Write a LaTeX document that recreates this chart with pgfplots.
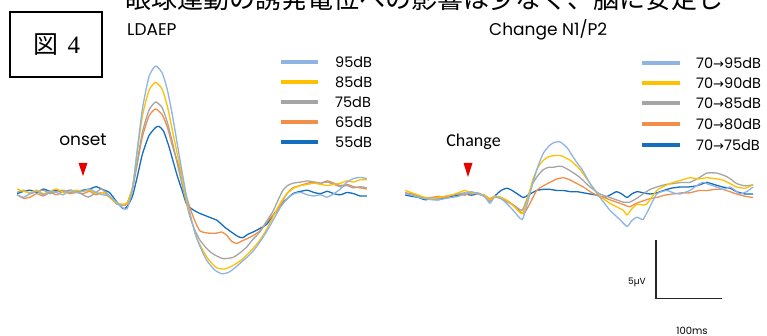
\documentclass[border=0pt]{standalone}
\usepackage{pgfplots}
\pgfplotsset{compat=1.18}
\usepackage{fontspec}
\setmainfont{Poppins}
\newfontfamily\cjk{Noto Sans CJK JP}
\newfontfamily\calib{Carlito}
\newfontfamily\dejavu{DejaVu Sans}
\newfontfamily\serif{Liberation Serif}
\definecolor{cA}{RGB}{141,180,226}
\definecolor{cB}{RGB}{255,192,0}
\definecolor{cC}{RGB}{165,165,165}
\definecolor{cD}{RGB}{241,143,72}
\definecolor{cE}{RGB}{20,110,190}
\definecolor{trired}{RGB}{230,0,0}
\begin{document}
\begin{tikzpicture}
\useasboundingbox (0pt,0pt) rectangle (767pt,336pt);
% cut-off running text at the top
\node[anchor=base west, inner sep=0pt, font=\cjk\fontsize{26}{26}\selectfont] at (125pt,327pt) {眼球運動の誘発電位への影響は少なく、脳に安定し};
% figure number box
\draw[line width=2pt] (10pt,259pt) rectangle (102pt,324pt);
\node[inner sep=0pt] at (57pt,291pt) {\fontsize{25}{25}\selectfont{\cjk 図}\hspace{0.35em}{\serif 4}};
% titles
\node[anchor=base west, inner sep=0pt, font=\fontsize{17}{17}\selectfont] at (127pt,300pt) {LDAEP};
\node[anchor=base west, inner sep=0pt, font=\fontsize{17}{17}\selectfont] at (489pt,300pt) {Change N1/P2};
% onset / change labels and markers
\node[anchor=base, inner sep=0pt, font=\fontsize{17}{17}\selectfont] at (83pt,190pt) {onset};
\node[anchor=base, inner sep=0pt, font=\calib\fontsize{18}{18}\selectfont] at (473.5pt,189pt) {Change};
\fill[trired] (78.5pt,173pt) -- (87.5pt,173pt) -- (83pt,160pt) -- cycle;
\fill[trired] (463.5pt,173pt) -- (472.5pt,173pt) -- (468pt,159pt) -- cycle;
% legends
\foreach \c/\yy/\t in {cA/274/95dB, cB/254/85dB, cC/234/75dB, cD/214/65dB, cE/194/55dB}{
  \draw[\c, line width=3.5pt] (281pt,\yy pt) -- (318pt,\yy pt);
  \node[anchor=west, inner sep=0pt, font=\fontsize{14.5}{14.5}\selectfont] at (335pt,\yy pt) {\t};
}
\foreach \c/\yy/\t in {cA/273/95dB, cB/253/90dB, cC/233/85dB, cD/212/80dB, cE/191/75dB}{
  \draw[\c, line width=3.5pt] (642pt,\yy pt) -- (680pt,\yy pt);
  \node[anchor=west, inner sep=0pt, font=\fontsize{14.5}{14.5}\selectfont] at (696pt,\yy pt) {70{\dejavu\fontsize{13}{13}\selectfont →}\t};
}
% scale labels
\node[inner sep=0pt, font=\fontsize{9}{9}\selectfont] at (637pt,54pt) {5µV};
\node[anchor=base, inner sep=0pt, font=\fontsize{10}{10}\selectfont] at (692pt,1.5pt) {100ms};

% ---------------- LDAEP ----------------
\begin{axis}[at={(17pt,50.7pt)}, anchor=south west, scale only axis,
  width=349.8pt, height=232pt, enlargelimits=false,
  xmin=-100, xmax=430, ymin=-8, ymax=12, axis lines=none, clip=false,
  every axis plot/.append style={line width=1.3pt, smooth, tension=0.35, no markers}]
\addplot[cE] coordinates {(-100,-0.1)(-90,0.1)(-80,0.2)(-70,0.0)(-60,0.3)(-50,0.1)(-40,0.2)(-30,0.0)(-20,0.2)(-10,0.1)(0,0.2)(10,0.3)(20,0.5)(28,0.3)(40,0.0)(51,-0.8)(61,-1.4)(67,-1.2)(75,-0.3)(82,1.3)(90,3.3)(100,4.9)(110,5.6)(115,5.7)(122,5.3)(130,4.0)(136,2.8)(143,1.4)(150,0.2)(157,-1.0)(167,-1.5)(177,-1.8)(190,-2.1)(203,-2.4)(215,-3.0)(227,-3.5)(235,-3.8)(242,-3.9)(250,-3.6)(258,-3.4)(268,-3.1)(279,-2.7)(290,-1.8)(303,-0.9)(318,-0.1)(330,0.1)(340,0.2)(350,0.0)(360,-0.1)(370,0.1)(380,-0.1)(390,-0.2)(400,0.0)(410,-0.1)(420,-0.3)(430,-0.3)};
\addplot[cD] coordinates {(-100,-0.2)(-90,-0.5)(-80,-0.4)(-70,-0.1)(-60,-0.3)(-50,0.0)(-40,-0.2)(-30,0.1)(-20,-0.1)(-10,0.0)(0,-0.1)(10,0.1)(20,-0.2)(30,0.0)(40,-0.4)(50,-0.9)(60,-1.1)(67,-1.0)(75,0.3)(82,2.4)(90,4.8)(100,6.6)(110,7.2)(120,6.7)(128,5.6)(136,3.9)(147,1.9)(157,-0.4)(167,-2.1)(177,-3.3)(190,-3.5)(203,-3.5)(210,-3.4)(218,-3.7)(225,-4.2)(233,-4.4)(240,-4.2)(248,-4.0)(258,-3.7)(268,-3.3)(280,-2.4)(294,-1.6)(302,-0.8)(309,-0.1)(318,0.4)(329,0.6)(340,0.8)(350,0.9)(360,0.8)(370,1.0)(380,0.8)(390,0.6)(400,0.7)(410,0.5)(420,0.4)(430,0.3)};
\addplot[cC] coordinates {(-100,0.0)(-90,0.2)(-80,-0.1)(-70,0.1)(-60,0.2)(-50,-0.1)(-40,0.1)(-30,0.2)(-20,0.0)(-10,0.1)(0,-0.2)(8,-0.4)(20,0.0)(28,0.3)(40,-0.3)(51,-1.0)(60,-1.1)(67,-0.9)(75,0.4)(82,2.6)(90,5.2)(100,7.1)(110,7.8)(120,7.3)(128,6.0)(136,4.2)(150,0.7)(162,-2.1)(170,-3.3)(177,-4.1)(187,-4.8)(197,-5.3)(212,-5.7)(227,-5.6)(238,-5.2)(248,-4.7)(258,-4.0)(268,-3.4)(278,-2.5)(288,-1.6)(296,-0.6)(303,0.2)(310,0.6)(318,0.8)(330,0.9)(340,1.0)(350,0.9)(360,0.8)(370,0.9)(380,0.7)(390,0.5)(400,0.6)(410,0.4)(420,0.5)(430,0.4)};
\addplot[cB] coordinates {(-100,0.3)(-90,0.1)(-80,0.0)(-70,0.2)(-60,-0.1)(-50,0.1)(-40,0.3)(-30,0.0)(-20,0.1)(-10,0.2)(0,0.1)(10,0.2)(20,-0.1)(30,0.0)(40,-0.4)(50,-0.9)(60,-1.0)(67,-0.9)(75,0.5)(82,3.4)(90,6.6)(100,8.8)(110,9.5)(120,8.9)(128,7.4)(136,5.2)(147,2.2)(157,-0.7)(165,-2.5)(172,-3.9)(180,-4.8)(188,-5.6)(195,-6.1)(203,-6.5)(215,-6.6)(227,-6.3)(238,-5.9)(248,-5.4)(258,-4.8)(268,-4.1)(278,-3.2)(288,-2.1)(298,-1.0)(309,-0.1)(320,0.4)(330,0.6)(340,0.7)(350,0.8)(360,0.7)(370,0.6)(380,0.7)(390,0.8)(400,1.0)(410,0.9)(420,1.1)(430,1.1)};
\addplot[cA] coordinates {(-100,-0.2)(-90,-0.4)(-80,-0.1)(-70,0.1)(-60,-0.2)(-50,0.1)(-40,0.0)(-30,-0.2)(-20,0.2)(-10,0.0)(0,0.1)(10,0.3)(20,0.0)(30,-0.2)(40,-0.3)(50,-0.8)(60,-1.3)(67,-1.4)(75,0.3)(82,3.6)(90,7.2)(100,10.0)(110,10.9)(120,10.3)(128,8.8)(136,6.5)(147,2.8)(157,-0.4)(165,-2.5)(172,-3.9)(180,-5.0)(188,-5.9)(200,-6.7)(210,-7.0)(220,-6.9)(230,-6.5)(240,-6.0)(250,-5.5)(260,-4.9)(270,-4.1)(280,-3.2)(290,-2.2)(300,-1.2)(310,-0.5)(320,-0.1)(330,0.0)(340,-0.2)(350,-0.3)(360,-0.2)(370,-0.4)(380,-0.1)(390,0.3)(400,0.9)(410,1.2)(420,1.3)(430,1.2)};
\end{axis}

% ---------------- Change N1/P2 ----------------
\begin{axis}[at={(405.3pt,31.8pt)}, anchor=south west, scale only axis,
  width=347.82pt, height=179.8pt, enlargelimits=false,
  xmin=-95, xmax=432, ymin=-9.5, ymax=6, axis lines=none, clip=false,
  every axis plot/.append style={line width=1.3pt, smooth, tension=0.35, no markers}]
\addplot[cE] coordinates {(-95,-0.1)(-85,-0.2)(-75,-0.3)(-65,-0.5)(-55,-0.4)(-45,-0.5)(-35,-0.3)(-25,-0.2)(-15,-0.1)(-5,0.0)(5,-0.1)(15,0.0)(25,-0.2)(33,-0.6)(42,-0.1)(50,0.3)(59,0.5)(67,0.3)(75,0.0)(84,-0.3)(94,0.0)(104,0.3)(114,0.4)(124,0.4)(135,0.3)(145,0.3)(155,0.2)(165,0.2)(175,0.1)(185,0.0)(195,-0.1)(206,-0.3)(215,-0.1)(225,0.2)(233,0.0)(241,-0.3)(248,0.0)(256,0.2)(266,0.1)(276,0.0)(286,0.1)(296,0.3)(308,0.5)(321,0.6)(333,0.6)(346,0.7)(356,0.9)(362,1.0)(374,0.8)(386,0.6)(397,0.5)(407,0.2)(420,0.0)(432,0.0)};
\addplot[cD] coordinates {(-95,0.1)(-85,0.0)(-75,-0.2)(-65,-0.3)(-55,-0.3)(-45,-0.2)(-35,-0.3)(-25,-0.1)(-15,0.0)(-5,-0.1)(5,0.1)(15,0.0)(25,-0.1)(33,-0.4)(40,-0.2)(50,-0.3)(60,-0.6)(70,-1.0)(84,-1.7)(94,-0.8)(104,0.3)(114,0.7)(124,1.0)(135,1.3)(145,1.4)(155,1.2)(165,0.9)(175,0.6)(185,0.2)(195,-0.1)(206,-0.3)(215,-0.5)(225,-0.7)(235,-0.9)(245,-1.1)(255,-0.8)(265,-0.6)(276,-0.4)(286,-0.3)(298,-0.1)(311,0.0)(324,0.1)(336,0.1)(350,0.3)(362,0.3)(374,0.4)(386,0.4)(397,0.2)(407,0.0)(420,-0.2)(432,-0.3)};
\addplot[cC] coordinates {(-95,0.1)(-85,-0.1)(-75,-0.2)(-65,-0.4)(-55,-0.3)(-45,-0.4)(-35,-0.2)(-25,-0.1)(-15,0.0)(-5,0.1)(5,0.0)(15,0.1)(25,-0.2)(33,-0.6)(40,-0.2)(50,-0.4)(60,-0.7)(70,-1.0)(82,-1.4)(90,-0.3)(98,0.9)(106,1.6)(114,2.1)(122,2.3)(129,2.3)(141,2.4)(155,2.0)(170,1.4)(185,0.6)(200,0.0)(215,-0.3)(235,-0.7)(245,-0.7)(255,-0.4)(265,0.0)(276,0.4)(286,0.6)(298,0.8)(311,0.9)(324,1.0)(336,1.0)(350,1.4)(362,1.8)(377,1.8)(392,1.5)(400,1.2)(407,0.9)(420,0.7)(432,0.8)};
\addplot[cB] coordinates {(-95,0.3)(-85,0.1)(-75,-0.1)(-65,-0.3)(-55,-0.4)(-45,-0.3)(-35,-0.2)(-25,-0.1)(-15,0.1)(-5,0.3)(5,0.1)(15,0.0)(25,-0.1)(33,-0.5)(40,-0.2)(50,-0.3)(60,-0.6)(70,-1.1)(82,-1.7)(90,-0.5)(98,1.2)(106,2.3)(114,2.9)(122,3.2)(129,3.3)(141,3.3)(155,2.9)(163,2.5)(170,2.1)(185,0.9)(200,-0.2)(215,-0.8)(225,-1.1)(235,-1.4)(241,-1.8)(248,-1.3)(256,-0.9)(270,-0.9)(286,0.3)(298,0.7)(311,1.0)(324,1.2)(336,1.4)(350,1.3)(362,1.4)(377,1.3)(386,1.2)(397,0.9)(407,0.6)(420,0.5)(432,0.8)};
\addplot[cA] coordinates {(-95,0.0)(-85,-0.1)(-75,-0.3)(-65,-0.4)(-55,-0.5)(-45,-0.5)(-35,-0.4)(-25,-0.3)(-15,-0.2)(-5,0.0)(5,0.2)(15,0.0)(25,-0.2)(33,-0.8)(40,-0.3)(50,-0.4)(60,-0.9)(70,-1.5)(82,-2.2)(90,-0.8)(98,0.9)(106,2.4)(114,3.5)(122,4.1)(129,4.4)(139,4.5)(150,4.0)(158,3.3)(165,2.7)(173,2.1)(185,0.9)(200,-0.3)(215,-1.4)(230,-2.2)(241,-2.8)(248,-2.3)(256,-2.0)(265,-2.2)(273,-1.4)(286,0.0)(301,0.3)(311,0.1)(321,0.0)(336,0.3)(346,0.7)(356,1.0)(366,0.8)(377,0.6)(387,0.4)(397,0.6)(405,0.3)(412,0.0)(422,0.2)(432,0.6)};
% scale bar
\addplot[black!85, line width=1.5pt, sharp plot] coordinates {(285,-4) (285,-9) (385,-9)};
\end{axis}
\end{tikzpicture}
\end{document}
